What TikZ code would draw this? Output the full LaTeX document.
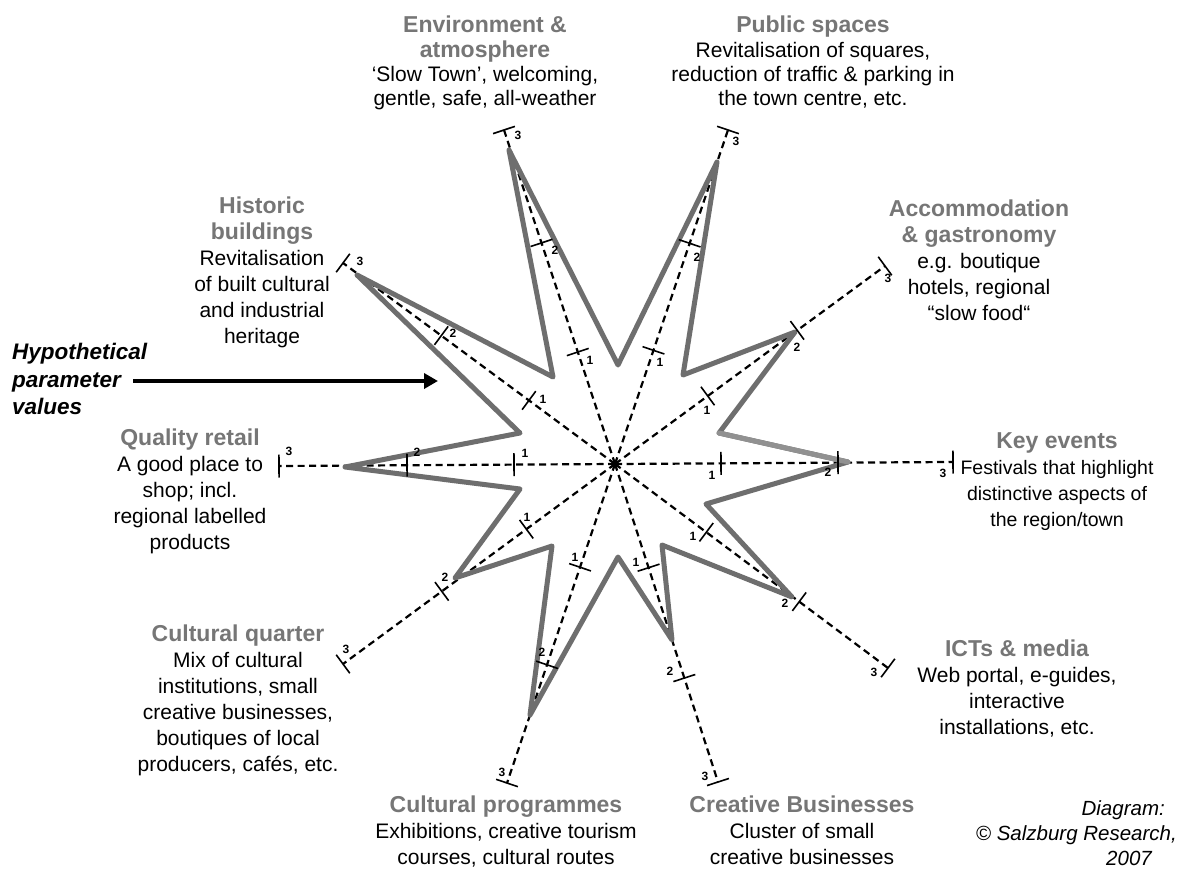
\documentclass[tikz,border=0pt]{standalone}
\usepackage{fontspec}
\setmainfont{Liberation Sans}
\usetikzlibrary{calc,arrows.meta}
\definecolor{ttlgray}{RGB}{118,118,118}
\definecolor{stargray}{RGB}{110,110,110}
\definecolor{starlight}{RGB}{145,145,145}
\newcommand\ttl[1]{{\color{ttlgray}\bfseries\fontsize{23}{26}\selectfont #1}}

\begin{document}
\begin{tikzpicture}[x=1pt,y=-1pt,
  axisline/.style={black, line width=2.2pt, dash pattern=on 7pt off 4.5pt},
  tickmark/.style={black, line width=1.6pt},
  ticklbl/.style={font=\bfseries\fontsize{12}{12}\selectfont, inner sep=0pt},
  starline/.style={stargray, line width=5pt, line join=round, line cap=round},
  lbl/.style={align=center, inner sep=0pt, anchor=north, font=\fontsize{21}{26}\selectfont},
  toplbl/.style={lbl, font=\fontsize{21}{24.3}\selectfont},
  notelbl/.style={inner sep=0pt, font=\bfseries\itshape\fontsize{22.5}{27.5}\selectfont, align=left, anchor=north west},
]
\useasboundingbox (0,0) rectangle (1184,875);
\fill[white] (0,0) rectangle (1184,875);

% centre of the radar and the ten dashed axes
\coordinate (C) at (615,464);
\foreach \n/\ex/\ey/\da/\db in {env/504/130/118/233, pub/728/130/120/233,
    acc/885/266/115/226, key/953/462/106/223, ict/888/668/114/230,
    cre/718/782/109/225, prog/507/783/109/212, quar/343/664/110/215,
    ret/279/466/101/208, his/343/263/107/216}{
  \coordinate (E\n) at (\ex,\ey);
  \coordinate (A\n) at ($(C)!\da pt!(E\n)$);
  \coordinate (B\n) at ($(C)!\db pt!(E\n)$);
  \draw[axisline] (C) -- (E\n);
}

% parameter values (star outline)
\draw[starline] (509,150) -- (618,365) -- (717,162) -- (683,375) -- (795,332)
  -- (719,433) -- (848,462) -- (706,504) -- (792,597) -- (662,545)
  -- (672,640) -- (618,557) -- (530,715) -- (552,546) -- (455,578)
  -- (520,489) -- (345,467) -- (520,433) -- (357,275) -- (553,377) -- cycle;
\draw[starline, starlight] (719,433) -- (848,462);

% scale ticks on every axis
\foreach \n in {env,pub,acc,key,ict,cre,prog,quar,ret,his}{
  \draw[tickmark] ($(A\n)!11.5pt!90:(E\n)$) -- ($(A\n)!11.5pt!-90:(E\n)$);
  \draw[tickmark] ($(B\n)!11.5pt!90:(E\n)$) -- ($(B\n)!11.5pt!-90:(E\n)$);
  \draw[tickmark] ($(E\n)!11.5pt!90:(C)$) -- ($(E\n)!11.5pt!-90:(C)$);
}
\fill (C) circle (3pt);

% tick numbers
\foreach \n/\x/\y/\v in {
  env3/518/135/3, env2/555/250/2, env1/590/360/1,
  pub3/736/141/3, pub2/697/257/2, pub1/660/362/1,
  acc3/888/278/3, acc2/797/347/2, acc1/707/410/1,
  key3/943/473/3, key2/828/472/2, key1/712/475/1,
  ict3/874/672/3, ict2/785/603/2, ict1/693/536/1,
  cre3/705/776/3, cre2/670/671/2, cre1/636/562/1,
  prog3/502/772/3, prog2/542/652/2, prog1/575/557/1,
  quar3/346/649/3, quar2/445/577/2, quar1/527/517/1,
  ret3/289/451/3, ret2/417/452/2, ret1/525/453/1,
  his3/360/261/3, his2/453/333/2, his1/543/399/1}{
  \node[ticklbl] (n\n) at (\x,\y) {\v};
}

% category labels
\node[toplbl] (tenv) at (485,16) {\ttl{Environment \&}\\\ttl{atmosphere}\\
  `Slow Town', welcoming,\\gentle, safe, all-weather};
\node[toplbl] (tpub) at (813,16) {\ttl{Public spaces}\\Revitalisation of squares,\\
  reduction of traffic \& parking in\\the town centre, etc.};
\node[lbl] (tacc) at (979,200) {\ttl{Accommodation}\\\ttl{\& gastronomy}\\
  e.g. boutique\\hotels, regional\\``slow food``};
\node[lbl, font=\fontsize{19.5}{26}\selectfont] (tkey) at (1057,432) {\ttl{Key events}\\Festivals that highlight\\
  distinctive aspects of\\the region/town};
\node[lbl] (tict) at (1017,640) {\ttl{ICTs \& media}\\Web portal, e-guides,\\
  interactive\\installations, etc.};
\node[lbl] (tcre) at (802,796) {\ttl{Creative Businesses}\\Cluster of small\\creative businesses};
\node[lbl] (tprog) at (506,796) {\ttl{Cultural programmes}\\Exhibitions, creative tourism\\
  courses, cultural routes};
\node[lbl] (tquar) at (238,625) {\ttl{Cultural quarter}\\Mix of cultural\\
  institutions, small\\creative businesses,\\boutiques of local\\producers, cafés, etc.};
\node[lbl] (tret) at (190,429) {\ttl{Quality retail}\\A good place to\\shop; incl.\\
  regional labelled\\products};
\node[lbl] (this) at (262,197) {\ttl{Historic}\\\ttl{buildings}\\Revitalisation\\
  of built cultural\\and industrial\\heritage};

% legend arrow
\node[notelbl] (hyp) at (12,343) {Hypothetical\\parameter\\values};
\coordinate (arrS) at (133,381);
\coordinate (arrE) at (438,381);
\draw[line width=4pt, -{Triangle[length=14pt,width=15pt]}] (arrS) -- (arrE);

% source note
\node[inner sep=0pt, anchor=north east, align=right, font=\itshape\fontsize{20.5}{25}\selectfont]
  (src) at (1177,800) {Diagram:\hspace*{12pt}\\\textcopyright{} Salzburg Research,\\2007\hspace*{25pt}};
\end{tikzpicture}
\end{document}
